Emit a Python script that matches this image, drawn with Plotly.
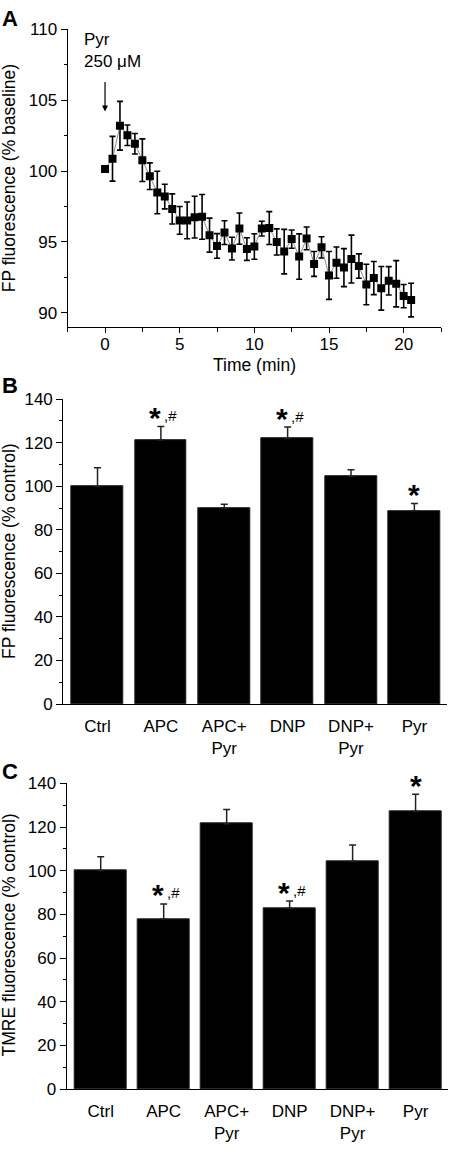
import plotly.graph_objects as go

# ---------------- Data ----------------
time_min = [0, 0.5, 1, 1.5, 2, 2.5, 3, 3.5, 4, 4.5, 5, 5.5, 6, 6.5, 7, 7.5, 8, 8.5, 9, 9.5,
            10, 10.5, 11, 11.5, 12, 12.5, 13, 13.5, 14, 14.5, 15, 15.5, 16, 16.5, 17, 17.5,
            18, 18.5, 19, 19.5, 20, 20.5]
fp_baseline = [100.15, 100.87, 103.2, 102.53, 101.93, 100.77, 99.64, 98.49, 98.2, 97.33,
               96.52, 96.52, 96.75, 96.77, 95.48, 94.72, 95.66, 94.53, 95.94, 94.5,
               94.68, 95.94, 95.98, 95.0, 94.32, 95.2, 93.97, 95.25, 93.45, 94.62,
               92.64, 93.54, 93.19, 93.79, 93.3, 92.0, 92.45, 91.73, 92.26, 92.05,
               91.18, 90.9]
fp_baseline_err = [0.12, 1.58, 1.72, 0.72, 0.72, 1.5, 0.94, 1.5, 0.87, 1.06,
                   0.98, 1.3, 1.47, 1.58, 1.2, 0.87, 0.84, 0.8, 1.1, 0.8,
                   0.9, 0.52, 1.16, 0.92, 1.57, 0.64, 1.6, 0.8, 0.88, 0.75,
                   1.69, 1.1, 1.34, 1.69, 0.86, 1.43, 1.17, 1.54, 1.0, 1.63,
                   0.82, 1.19]

categories = ["Ctrl", "APC", "APC+<br>Pyr", "DNP", "DNP+<br>Pyr", "Pyr"]
fp_control = [100.0, 121.2, 90.0, 121.9, 104.6, 88.8]
fp_control_err = [8.5, 6.3, 1.7, 5.3, 3.0, 3.3]
fp_marks = ["", "*,#", "", "*,#", "", "*"]

tmre_control = [100.1, 77.9, 121.5, 82.8, 104.3, 127.2]
tmre_control_err = [6.3, 6.9, 6.5, 3.3, 7.5, 7.8]
tmre_marks = ["", "*,#", "", "*,#", "", "*"]

# ---------------- Layout geometry ----------------
W, H = 449, 1153
FONT = "Arial, Liberation Sans, Helvetica, sans-serif"
FS = 17

def px_x(p):
    return p / W

def px_y(p):
    return 1 - p / H

fig = go.Figure()

# Panel A
fig.add_trace(go.Scatter(
    x=time_min, y=fp_baseline, mode="lines+markers",
    line=dict(color="#8c8c8c", width=1),
    marker=dict(symbol="square", size=8, color="black"),
    error_y=dict(type="data", array=fp_baseline_err, visible=True,
                 color="black", thickness=1.6, width=3),
    xaxis="x", yaxis="y", showlegend=False))

# Panel B
fig.add_trace(go.Bar(
    x=list(range(len(categories))), y=fp_control, width=0.816,
    marker=dict(color="black", line=dict(color="#222", width=1)),
    error_y=dict(type="data", symmetric=False, array=fp_control_err,
                 arrayminus=[0] * len(categories), visible=True,
                 color="#222", thickness=1.5, width=3.5),
    xaxis="x2", yaxis="y2", showlegend=False))

# Panel C
fig.add_trace(go.Bar(
    x=list(range(len(categories))), y=tmre_control, width=0.816,
    marker=dict(color="black", line=dict(color="#222", width=1)),
    error_y=dict(type="data", symmetric=False, array=tmre_control_err,
                 arrayminus=[0] * len(categories), visible=True,
                 color="#222", thickness=1.5, width=3.5),
    xaxis="x3", yaxis="y3", showlegend=False))

axis_common = dict(showline=True, linecolor="black", linewidth=1.2, showgrid=False,
                   zeroline=False, ticks="outside", tickcolor="black", tickwidth=1.2,
                   tickfont=dict(family=FONT, size=FS, color="black"))

minor_y = dict(ticklen=3, tickcolor="black", tickwidth=1.2, ticks="outside")

fig.update_layout(
    width=W, height=H, margin=dict(l=0, r=0, t=0, b=0),
    paper_bgcolor="white", plot_bgcolor="white",
    font=dict(family=FONT, color="black"),
    bargap=0,
    xaxis=dict(**axis_common, domain=[px_x(67.7), px_x(441)], range=[-2.5, 22.5],
               tickvals=[0, 5, 10, 15, 20], ticklen=5, ticklabelstandoff=-3,
               minor=dict(tickvals=[-2.5, 2.5, 7.5, 12.5, 17.5, 22.5], ticklen=4,
                          tickcolor="black", tickwidth=1.2, ticks="outside"),
               anchor="y"),
    yaxis=dict(**axis_common, domain=[px_y(323.3), px_y(20.7)], range=[89, 110],
               tickvals=[90, 95, 100, 105, 110], ticklen=6,
               minor=dict(tickvals=[92.5, 97.5, 102.5, 107.5], **minor_y),
               anchor="x"),
    xaxis2=dict(**{**axis_common, "ticks": ""}, domain=[px_x(63.3), px_x(446.7)],
                range=[-0.54, 5.51], tickvals=list(range(6)), ticktext=categories,
                anchor="y2", ticklabelstandoff=6),
    yaxis2=dict(**axis_common, domain=[px_y(706.7), px_y(396.7)], range=[0, 140],
                tickvals=[0, 20, 40, 60, 80, 100, 120, 140], ticklen=6,
                minor=dict(tickvals=[10, 30, 50, 70, 90, 110, 130], **minor_y),
                anchor="x2"),
    xaxis3=dict(**{**axis_common, "ticks": ""}, domain=[px_x(66.7), px_x(447.7)],
                range=[-0.54, 5.51], tickvals=list(range(6)), ticktext=categories,
                anchor="y3", ticklabelstandoff=6),
    yaxis3=dict(**axis_common, domain=[px_y(1098.3), px_y(787.3)], range=[0, 140],
                tickvals=[0, 20, 40, 60, 80, 100, 120, 140], ticklen=6,
                minor=dict(tickvals=[10, 30, 50, 70, 90, 110, 130], **minor_y),
                anchor="x3"),
)

ann = []
# Panel letters (centred on their cap height)
for letter, yc in [("A", 10), ("B", 383), ("C", 775.5)]:
    ann.append(dict(text="<b>%s</b>" % letter, x=0, y=px_y(yc), xref="paper", yref="paper",
                    xanchor="left", yanchor="middle", showarrow=False,
                    font=dict(family=FONT, size=22, color="black")))

# Axis titles
for title, ycenter in [("FP fluorescence (% baseline)", 172), ("FP fluorescence (% control)", 551),
                       ("TMRE fluorescence (% control)", 942)]:
    ann.append(dict(text=title, x=px_x(9), y=px_y(ycenter), xref="paper", yref="paper",
                    xanchor="center", yanchor="middle", textangle=-90, showarrow=False,
                    font=dict(family=FONT, size=17.5, color="black")))
ann.append(dict(text="Time (min)", x=px_x(254), y=px_y(362), xref="paper", yref="paper",
                xanchor="center", yanchor="middle", showarrow=False,
                font=dict(family=FONT, size=17.5, color="black")))

# Panel A treatment label and arrow
ann.append(dict(text="Pyr", x=-1.55, y=109.3, xref="x", yref="y", xanchor="left",
                yanchor="middle", showarrow=False, font=dict(family=FONT, size=FS, color="black")))
ann.append(dict(text="250 μM", x=-1.55, y=107.75, xref="x", yref="y", xanchor="left",
                yanchor="middle", showarrow=False, font=dict(family=FONT, size=FS, color="black")))
ann.append(dict(text="", x=0, y=104.2, ax=0, ay=106.4, xref="x", yref="y", axref="x", ayref="y",
                showarrow=True, arrowhead=2, arrowsize=1, arrowwidth=1.2, arrowcolor="black"))


# Significance marks: big bold star, optional smaller ",#"
def add_marks(marks, values, errs, xr, yr):
    for i, m in enumerate(marks):
        if not m:
            continue
        top = values[i] + errs[i]
        star_shift = -6 if m != "*" else 0
        ann.append(dict(text="<b>*</b>", x=i, y=top, xref=xr, yref=yr,
                        xanchor="center", yanchor="middle", xshift=star_shift, yshift=9,
                        showarrow=False, font=dict(family=FONT, size=30, color="black")))
        if m != "*":
            ann.append(dict(text=",#", x=i, y=top, xref=xr, yref=yr,
                            xanchor="left", yanchor="middle", xshift=1, yshift=11,
                            showarrow=False, font=dict(family=FONT, size=15, color="black")))


add_marks(fp_marks, fp_control, fp_control_err, "x2", "y2")
add_marks(tmre_marks, tmre_control, tmre_control_err, "x3", "y3")

fig.update_layout(annotations=ann)
fig.write_html("out.html", config={"displayModeBar": False},
               post_script="document.body.style.margin='0';")
